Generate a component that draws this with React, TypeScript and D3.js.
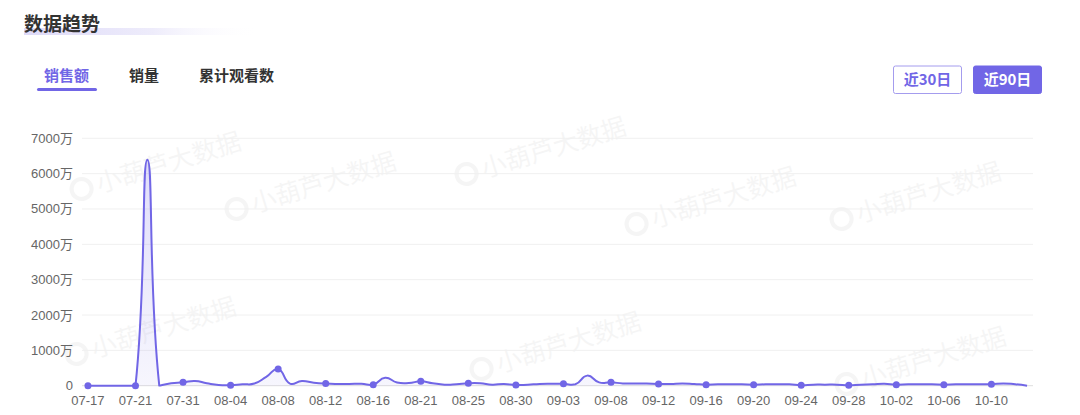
import React from 'react';
import * as d3 from 'd3';

const categories = [
  '07-17', '07-18', '07-19', '07-20', '07-21', '07-22', '07-24', '07-28',
  '07-31', '08-01', '08-02', '08-03', '08-04', '08-05', '08-06', '08-07',
  '08-08', '08-09', '08-10', '08-11', '08-12', '08-13', '08-14', '08-15',
  '08-16', '08-17', '08-18', '08-20', '08-21', '08-22', '08-23', '08-24',
  '08-25', '08-26', '08-27', '08-29', '08-30', '08-31', '09-01', '09-02',
  '09-03', '09-04', '09-05', '09-07', '09-08', '09-09', '09-10', '09-11',
  '09-12', '09-13', '09-14', '09-15', '09-16', '09-17', '09-18', '09-19',
  '09-20', '09-21', '09-22', '09-23', '09-24', '09-25', '09-26', '09-27',
  '09-28', '09-29', '09-30', '10-01', '10-02', '10-03', '10-04', '10-05',
  '10-06', '10-07', '10-08', '10-09', '10-10', '10-11', '10-12', '10-13',
];

// 销售额 (万)
const salesValues = [
  0, 0, 0, 0, 0, 6390, 5, 70,
  95, 135, 70, 20, 15, 40, 60, 250,
  470, 60, 130, 85, 60, 50, 50, 55,
  30, 225, 90, 75, 125, 70, 30, 40,
  70, 70, 30, 50, 20, 30, 50, 55,
  55, 40, 285, 95, 95, 65, 65, 60,
  50, 50, 65, 50, 30, 40, 40, 40,
  30, 40, 40, 40, 15, 30, 30, 30,
  15, 30, 40, 55, 30, 40, 40, 40,
  30, 40, 40, 40, 40, 65, 40, 0,
];

const yTicks = [0, 1000, 2000, 3000, 4000, 5000, 6000, 7000];
const tabs = ['销售额', '销量', '累计观看数'];
const rangeButtons = ['近30日', '近90日'];
const watermarkText = '小葫芦大数据';
const watermarkSpots = [
  [160, 165], [315, 185], [545, 150], [715, 200], [920, 195],
  [155, 330], [560, 345], [925, 360],
];

const MAIN = '#7166e6';
const FONT = '"Liberation Sans", "Noto Sans CJK SC", sans-serif';
const CJK = '"Noto Sans CJK SC", sans-serif';

type Pt = [number, number];

// ECharts-style bezier smoothing with bounding-box constraint
function smoothLine(pts: Pt[], smooth = 0.5) {
  const minX = d3.min(pts, (p) => p[0])!;
  const maxX = d3.max(pts, (p) => p[0])!;
  const minY = d3.min(pts, (p) => p[1])!;
  const maxY = d3.max(pts, (p) => p[1])!;
  const clamp = (p: Pt): Pt => [
    Math.min(Math.max(p[0], minX), maxX),
    Math.min(Math.max(p[1], minY), maxY),
  ];
  const cps: Pt[] = [];
  for (let i = 0; i < pts.length; i++) {
    const p = pts[i];
    if (i === 0 || i === pts.length - 1) {
      cps.push([p[0], p[1]]);
      continue;
    }
    const prev = pts[i - 1];
    const next = pts[i + 1];
    const vx = (next[0] - prev[0]) * smooth;
    const vy = (next[1] - prev[1]) * smooth;
    let d0 = Math.hypot(p[0] - prev[0], p[1] - prev[1]);
    let d1 = Math.hypot(p[0] - next[0], p[1] - next[1]);
    const sum = d0 + d1;
    if (sum !== 0) {
      d0 /= sum;
      d1 /= sum;
    }
    cps.push(clamp([p[0] - vx * d0, p[1] - vy * d0]));
    cps.push(clamp([p[0] + vx * d1, p[1] + vy * d1]));
  }
  return cps;
}

function buildPath(pts: Pt[], baseline?: number) {
  const cps = smoothLine(pts);
  const path = d3.path();
  path.moveTo(pts[0][0], pts[0][1]);
  for (let i = 0; i < pts.length - 1; i++) {
    const c0 = cps[2 * i];
    const c1 = cps[2 * i + 1];
    const p = pts[i + 1];
    path.bezierCurveTo(c0[0], c0[1], c1[0], c1[1], p[0], p[1]);
  }
  if (baseline !== undefined) {
    path.lineTo(pts[pts.length - 1][0], baseline);
    path.lineTo(pts[0][0], baseline);
    path.closePath();
  }
  return path.toString();
}

export default function App() {
  const width = 1080;
  const height = 415;
  const gridLeft = 82;
  const gridRight = 1033;
  const gridTop = 138.3;
  const gridBottom = 385.7;

  const x = d3
    .scaleBand<string>()
    .domain(categories)
    .range([gridLeft, gridRight]);
  const cx = (c: string) => (x(c) as number) + x.bandwidth() / 2;
  const y = d3.scaleLinear().domain([0, 7000]).range([gridBottom, gridTop]);

  const pts: Pt[] = categories.map((c, i) => [cx(c), y(salesValues[i])]);
  const linePath = buildPath(pts);
  const areaPath = buildPath(pts, y(0));

  return (
    <svg
      width={width}
      height={height}
      style={{ position: 'absolute', left: 0, top: 0, background: '#fff' }}
    >
      <defs>
        <linearGradient id="titleBar" x1="0" x2="1" y1="0" y2="0">
          <stop offset="0%" stopColor="#dedaf8" />
          <stop offset="55%" stopColor="#eeecfb" />
          <stop offset="100%" stopColor="#ffffff" stopOpacity="0" />
        </linearGradient>
        <linearGradient id="areaFill" x1="0" x2="0" y1="0" y2="1">
          <stop offset="0%" stopColor={MAIN} stopOpacity="0.22" />
          <stop offset="100%" stopColor={MAIN} stopOpacity="0.06" />
        </linearGradient>
      </defs>

      {/* watermarks */}
      {watermarkSpots.map(([wx, wy], i) => (
        <g key={i} transform={`translate(${wx},${wy}) rotate(-17)`} opacity={0.035}>
          <circle cx={-82} cy={0} r={10} fill="none" stroke="#000" strokeWidth={4} />
          <text x={-66} y={9} fontFamily={CJK} fontSize={25} fill="#000">
            {watermarkText}
          </text>
        </g>
      ))}

      {/* title */}
      <rect x={24} y={28} width={235} height={7} fill="url(#titleBar)" />
      <text x={24} y={31} fontFamily={CJK} fontWeight={700} fontSize={19} fill="#333">
        数据趋势
      </text>

      {/* tabs */}
      {tabs.map((t, i) => {
        const tx = [44, 129, 199][i];
        return (
          <text
            key={t}
            x={tx}
            y={81}
            fontFamily={CJK}
            fontWeight={700}
            fontSize={15}
            fill={i === 0 ? MAIN : '#333'}
          >
            {t}
          </text>
        );
      })}
      <rect x={37} y={88} width={60} height={3} rx={1.5} fill={MAIN} />

      {/* range buttons */}
      {rangeButtons.map((b, i) => {
        const bx = [893.5, 973.5][i];
        const active = i === 1;
        return (
          <g key={b}>
            <rect
              x={bx}
              y={66}
              width={68}
              height={27.5}
              rx={2}
              fill={active ? MAIN : '#fff'}
              stroke={active ? MAIN : '#a49cee'}
              strokeWidth={1}
            />
            <text
              x={bx + 34}
              y={85}
              textAnchor="middle"
              fontFamily={CJK}
              fontWeight={700}
              fontSize={15}
              fill={active ? '#fff' : MAIN}
            >
              {b}
            </text>
          </g>
        );
      })}

      {/* grid lines */}
      {yTicks.map((t) => (
        <line
          key={t}
          x1={gridLeft}
          x2={gridRight}
          y1={y(t)}
          y2={y(t)}
          stroke={t === 0 ? '#dedede' : '#f0f0f0'}
          strokeWidth={1}
        />
      ))}

      {/* y labels */}
      {yTicks.map((t) => (
        <text
          key={t}
          x={73}
          y={y(t) + 4.5}
          textAnchor="end"
          fontFamily={FONT}
          fontSize={13}
          fill="#666"
        >
          {t === 0 ? '0' : `${t}万`}
        </text>
      ))}

      {/* x labels */}
      {categories.map((c, i) =>
        i % 4 === 0 ? (
          <text
            key={c}
            x={cx(c)}
            y={405}
            textAnchor="middle"
            fontFamily={FONT}
            fontSize={13}
            fill="#666"
          >
            {c}
          </text>
        ) : null
      )}

      {/* series */}
      <path d={areaPath} fill="url(#areaFill)" />
      <path d={linePath} fill="none" stroke={MAIN} strokeWidth={2} />
      {categories.map((c, i) =>
        i % 4 === 0 ? (
          <circle key={c} cx={cx(c)} cy={y(salesValues[i])} r={3.5} fill={MAIN} />
        ) : null
      )}
    </svg>
  );
}
